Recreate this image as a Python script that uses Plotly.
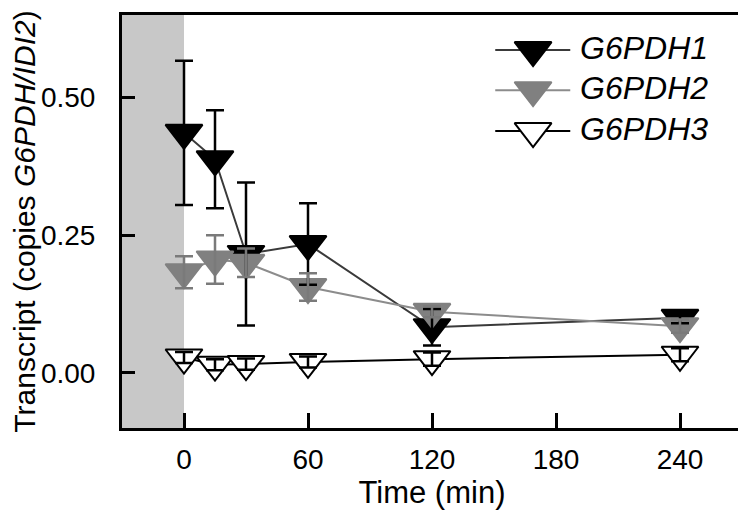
import plotly.graph_objects as go

# ---- data ----
time_min = [0, 15, 30, 60, 120, 240]
g6pdh1 = [0.436, 0.388, 0.216, 0.234, 0.083, 0.100]
g6pdh1_err = [0.131, 0.089, 0.130, 0.074, 0.033, 0.010]
g6pdh2 = [0.183, 0.206, 0.200, 0.156, 0.111, 0.085]
g6pdh2_err = [0.029, 0.044, 0.026, 0.025, 0.010, 0.012]
g6pdh3 = [0.028, 0.015, 0.016, 0.020, 0.025, 0.033]
g6pdh3_err = [0.010, 0.010, 0.010, 0.010, 0.012, 0.012]
series_names = ["G6PDH1", "G6PDH2", "G6PDH3"]
x_ticks = [0, 60, 120, 180, 240]
y_ticks = [0.0, 0.25, 0.5]
y_ticklabels = ["0.00", "0.25", "0.50"]
dark_period = [-30, 0]

# ---- styles ----
FONT = "Arial, Liberation Sans, sans-serif"
MS = 32
styles = [
    dict(line="#3a3a3a", fill="black", edge="black", err="black"),
    dict(line="#8c8c8c", fill="#808080", edge="#808080", err="#7a7a7a"),
    dict(line="black", fill="white", edge="black", err="black"),
]
values = [g6pdh1, g6pdh2, g6pdh3]
errors = [g6pdh1_err, g6pdh2_err, g6pdh3_err]

fig = go.Figure()

# lines + markers
for name, v, st in zip(series_names, values, styles):
    fig.add_trace(go.Scatter(
        x=time_min, y=v, mode="lines+markers", name=name, showlegend=False,
        line=dict(color=st["line"], width=2),
        marker=dict(symbol="triangle-down", size=MS, color=st["fill"],
                    line=dict(color=st["edge"], width=2)),
    ))

# error bars drawn on top of the symbols
for v, e, st in zip(values, errors, styles):
    fig.add_trace(go.Scatter(
        x=time_min, y=v, mode="markers", showlegend=False, hoverinfo="skip",
        marker=dict(size=1, color="rgba(0,0,0,0)"),
        error_y=dict(type="data", array=e, visible=True, color=st["err"],
                     thickness=2.5, width=9),
    ))

# legend drawn inside the plot on an overlay axis (0..1 of the plot area)
leg_x0, leg_xm, leg_x1, leg_xt = 0.602, 0.663, 0.723, 0.735
leg_y = [0.915, 0.818, 0.719]
for name, st, ly in zip(series_names, styles, leg_y):
    fig.add_trace(go.Scatter(
        x=[leg_x0, leg_x1], y=[ly, ly], mode="lines", showlegend=False,
        hoverinfo="skip", xaxis="x2", yaxis="y2",
        line=dict(color=st["line"], width=2),
    ))
    fig.add_trace(go.Scatter(
        x=[leg_xm], y=[ly], mode="markers", showlegend=False,
        hoverinfo="skip", xaxis="x2", yaxis="y2",
        marker=dict(symbol="triangle-down", size=MS, color=st["fill"],
                    line=dict(color=st["edge"], width=2)),
    ))
    fig.add_annotation(
        x=leg_xt, y=ly + 0.005, xref="x2", yref="y2", text=f"<i>{name}</i>",
        showarrow=False, xanchor="left", yanchor="middle",
        font=dict(family=FONT, size=32, color="black"),
    )

# dark period shading
fig.add_shape(type="rect", xref="x", yref="paper", x0=dark_period[0], x1=dark_period[1],
              y0=0, y1=1, fillcolor="#c8c8c8", line=dict(width=0), layer="below")

# the page body adds an 8px margin, so the figure is 8px smaller on each axis
fig.update_layout(
    width=738, height=503,
    margin=dict(l=114, r=4, t=7, b=83),
    paper_bgcolor="white", plot_bgcolor="white",
    font=dict(family=FONT, size=28, color="black"),
    xaxis=dict(
        range=[-30, 270], tickvals=x_ticks, ticks="inside", ticklen=15, tickwidth=3,
        tickcolor="black", showgrid=False, zeroline=False, automargin=False,
        showline=True, linewidth=3, linecolor="black", mirror=True,
        tickfont=dict(size=28), ticklabelstandoff=4,
        title=dict(text="Time (min)", font=dict(size=31), standoff=8),
    ),
    yaxis=dict(
        range=[-0.1, 0.65], tickvals=y_ticks, ticktext=y_ticklabels,
        ticks="inside", ticklen=13, tickwidth=3, tickcolor="black",
        showgrid=False, zeroline=False, automargin=False,
        showline=True, linewidth=3, linecolor="black", mirror=True,
        tickfont=dict(size=28), ticklabelstandoff=18,
        title=dict(text="Transcript (copies <i>G6PDH/IDI2</i>)", font=dict(size=30), standoff=22),
    ),
    xaxis2=dict(range=[0, 1], overlaying="x", visible=False),
    yaxis2=dict(range=[0, 1], overlaying="y", visible=False),
)

fig.write_html("out.html")
